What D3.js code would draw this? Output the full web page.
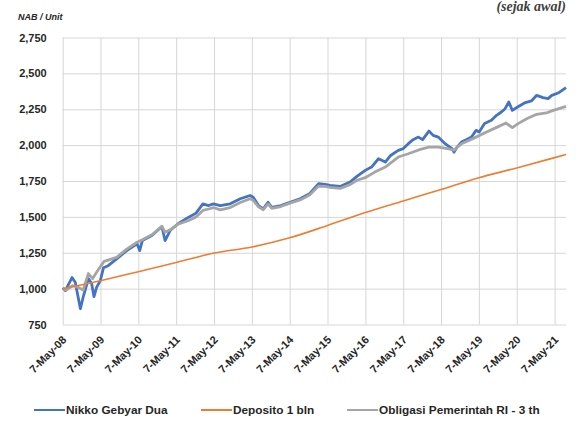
<!DOCTYPE html>
<html>
<head>
<meta charset="utf-8">
<script src="https://cdn.jsdelivr.net/npm/d3@7"></script>
<style>
  body { margin: 0; background: #fff; }
  svg { display: block; font-family: 'Liberation Sans Narrow', 'Arial Narrow', 'Liberation Sans', sans-serif; }
  .tick text { font-size: 11px; font-weight: bold; fill: #262626; }
  .tick line { stroke: #d6d6d6; }
  .domain { display: none; }
</style>
</head>
<body>
<svg></svg>
<script>
// values
const yTicks = [750, 1000, 1250, 1500, 1750, 2000, 2250, 2500, 2750];
const xTickDates = ['2008-05-07', '2009-05-07', '2010-05-07', '2011-05-07', '2012-05-07', '2013-05-07', '2014-05-07',
  '2015-05-07', '2016-05-07', '2017-05-07', '2018-05-07', '2019-05-07', '2020-05-07', '2021-05-07'];
const xTickLabels = ['7-May-08', '7-May-09', '7-May-10', '7-May-11', '7-May-12', '7-May-13', '7-May-14',
  '7-May-15', '7-May-16', '7-May-17', '7-May-18', '7-May-19', '7-May-20', '7-May-21'];
const seriesNames = ['Nikko Gebyar Dua', 'Deposito 1 bln', 'Obligasi Pemerintah RI - 3 th'];
const seriesColors = ['#4472c4', '#ed7d31', '#a5a5a5'];

const nikko = [
  ['2008-05-07', 1005], ['2008-06-01', 986], ['2008-08-05', 1077], ['2008-09-05', 1044], ['2008-10-25', 860],
  ['2008-11-20', 939], ['2009-01-10', 1070], ['2009-02-10', 1035], ['2009-03-05', 944], ['2009-03-30', 1009],
  ['2009-05-05', 1056], ['2009-06-05', 1146], ['2009-07-20', 1160], ['2009-10-10', 1207], ['2010-01-15', 1265],
  ['2010-04-25', 1312], ['2010-05-20', 1265], ['2010-06-15', 1335], ['2010-09-15', 1370], ['2010-12-20', 1433],
  ['2011-01-20', 1335], ['2011-03-10', 1405], ['2011-05-25', 1452], ['2011-09-05', 1498], ['2011-11-15', 1526],
  ['2012-01-20', 1591], ['2012-03-15', 1579], ['2012-05-01', 1591], ['2012-07-05', 1579], ['2012-10-10', 1591],
  ['2013-01-15', 1626], ['2013-04-20', 1649], ['2013-05-20', 1637], ['2013-07-10', 1579], ['2013-08-25', 1556],
  ['2013-10-10', 1602], ['2013-11-15', 1567], ['2014-02-10', 1579], ['2014-05-10', 1602], ['2014-08-15', 1626],
  ['2014-11-15', 1661], ['2015-02-10', 1731], ['2015-04-15', 1726], ['2015-06-01', 1719], ['2015-09-05', 1712],
  ['2015-12-10', 1742], ['2016-02-15', 1782], ['2016-05-05', 1824], ['2016-07-05', 1847], ['2016-09-10', 1905],
  ['2016-11-15', 1882], ['2017-01-05', 1928], ['2017-03-20', 1963], ['2017-05-05', 1975], ['2017-06-25', 2010],
  ['2017-08-10', 2038], ['2017-09-30', 2056], ['2017-11-10', 2038], ['2018-01-10', 2098], ['2018-02-20', 2068],
  ['2018-04-10', 2056], ['2018-06-15', 2010], ['2018-08-20', 1975], ['2018-09-10', 1951], ['2018-10-05', 1982],
  ['2018-11-20', 2021], ['2019-01-05', 2038], ['2019-02-25', 2056], ['2019-04-10', 2103], ['2019-05-10', 2091],
  ['2019-07-01', 2150], ['2019-09-05', 2173], ['2019-10-25', 2208], ['2019-12-10', 2231], ['2020-01-15', 2254],
  ['2020-02-20', 2301], ['2020-03-25', 2242], ['2020-05-15', 2266], ['2020-07-20', 2294], ['2020-09-25', 2308],
  ['2020-11-15', 2347], ['2021-01-15', 2331], ['2021-03-05', 2324], ['2021-04-10', 2347], ['2021-06-10', 2363],
  ['2021-08-25', 2401]
];

const deposito = [
  ['2008-05-07', 1000], ['2009-05-07', 1055], ['2010-05-07', 1118], ['2011-05-07', 1182], ['2012-05-07', 1248],
  ['2013-05-07', 1290], ['2014-05-07', 1354], ['2015-05-07', 1440], ['2016-05-07', 1530], ['2017-05-07', 1611],
  ['2018-05-07', 1691], ['2019-05-07', 1773], ['2020-05-07', 1841], ['2021-05-07', 1913], ['2021-08-25', 1935]
];

const obligasi = [
  ['2008-05-07', 1000], ['2008-06-10', 990], ['2008-08-10', 1020], ['2008-10-01', 1010], ['2008-11-20', 990],
  ['2009-01-10', 1105], ['2009-02-20', 1070], ['2009-04-10', 1126], ['2009-06-10', 1190], ['2009-10-10', 1218],
  ['2010-01-15', 1275], ['2010-04-25', 1323], ['2010-06-15', 1340], ['2010-09-15', 1375], ['2010-12-20', 1435],
  ['2011-01-20', 1393], ['2011-03-10', 1410], ['2011-05-25', 1450], ['2011-09-05', 1475], ['2011-11-15', 1500],
  ['2012-01-20', 1545], ['2012-03-15', 1555], ['2012-05-01', 1565], ['2012-07-05', 1549], ['2012-10-10', 1565],
  ['2013-01-15', 1600], ['2013-04-20', 1626], ['2013-05-20', 1615], ['2013-07-10', 1570], ['2013-08-25', 1550],
  ['2013-10-10', 1590], ['2013-11-15', 1560], ['2014-02-10', 1572], ['2014-05-10', 1596], ['2014-08-15', 1618],
  ['2014-11-15', 1652], ['2015-02-10', 1715], ['2015-04-15', 1712], ['2015-06-01', 1705], ['2015-09-05', 1698],
  ['2015-12-10', 1725], ['2016-02-15', 1755], ['2016-05-05', 1773], ['2016-08-05', 1812], ['2016-11-15', 1847],
  ['2017-03-20', 1917], ['2017-06-25', 1940], ['2017-10-10', 1968], ['2018-01-10', 1986], ['2018-04-10', 1986],
  ['2018-07-10', 1975], ['2018-09-10', 1965], ['2018-11-20', 2010], ['2019-02-01', 2033], ['2019-04-25', 2061],
  ['2019-07-20', 2091], ['2019-10-20', 2122], ['2020-01-25', 2154], ['2020-03-25', 2122], ['2020-05-20', 2150],
  ['2020-08-15', 2185], ['2020-11-15', 2215], ['2021-02-15', 2224], ['2021-04-25', 2242], ['2021-08-25', 2270]
];

const width = 582;
const height = 428;
const plotLeft = 62.7;
const plotRight = 566;
const plotTop = 37.5;
const plotBottom = 324.5;

const svg = d3.select('svg').attr('width', width).attr('height', height);
const parse = d3.timeParse('%Y-%m-%d');

const xScale = d3.scaleTime()
  .domain([parse('2008-05-07'), parse('2021-08-25')])
  .range([plotLeft, plotRight]);

const yScale = d3.scaleLinear()
  .domain([750, 2750])
  .range([plotBottom, plotTop]);

const generateAxes = () => {
  const yAxis = d3.axisLeft(yScale)
    .tickValues(yTicks)
    .tickSize(-(plotRight - plotLeft))
    .tickPadding(16)
    .tickFormat(d3.format(','));

  svg.append('g')
    .attr('transform', 'translate(' + plotLeft + ', 0)')
    .call(yAxis);

  const xAxis = d3.axisBottom(xScale)
    .tickValues(xTickDates.map(parse))
    .tickSize(-(plotBottom - plotTop))
    .tickFormat((d, i) => xTickLabels[i]);

  const gx = svg.append('g')
    .attr('transform', 'translate(0, ' + plotBottom + ')')
    .call(xAxis);

  gx.selectAll('text')
    .attr('x', 0)
    .attr('y', 0)
    .attr('dy', 0)
    .attr('text-anchor', 'end')
    .attr('transform', 'translate(4, 16) rotate(-45)');
};

const generateLines = () => {
  const line = d3.line()
    .x((d) => xScale(parse(d[0])))
    .y((d) => yScale(d[1]));

  const smooth = d3.line()
    .x((d) => xScale(parse(d[0])))
    .y((d) => yScale(d[1]))
    .curve(d3.curveMonotoneX);

  svg.append('path').datum(nikko)
    .attr('d', line).attr('fill', 'none')
    .attr('stroke', seriesColors[0]).attr('stroke-width', 2.8).attr('stroke-linejoin', 'round');

  svg.append('path').datum(obligasi)
    .attr('d', line).attr('fill', 'none')
    .attr('stroke', seriesColors[2]).attr('stroke-width', 2.8).attr('stroke-linejoin', 'round');

  svg.append('path').datum(deposito)
    .attr('d', smooth).attr('fill', 'none')
    .attr('stroke', seriesColors[1]).attr('stroke-width', 1.6);
};

const generateLabels = () => {
  svg.append('text')
    .attr('x', 18).attr('y', 20)
    .attr('font-size', 9).attr('font-weight', 'bold').attr('font-style', 'italic')
    .attr('fill', '#262626')
    .text('NAB / Unit');

  svg.append('text')
    .attr('x', 566).attr('y', 11)
    .attr('text-anchor', 'end')
    .attr('font-family', "'Liberation Serif', serif")
    .attr('font-size', 14).attr('font-weight', 'bold').attr('font-style', 'italic')
    .attr('fill', '#404040')
    .text('(sejak awal)');

  const legendX = [34, 201, 347];
  const legend = svg.append('g');
  seriesNames.forEach((name, i) => {
    legend.append('line')
      .attr('x1', legendX[i]).attr('x2', legendX[i] + 31)
      .attr('y1', 410).attr('y2', 410)
      .attr('stroke', seriesColors[i]).attr('stroke-width', 2);
    legend.append('text')
      .attr('x', legendX[i] + 32).attr('y', 414)
      .attr('font-size', 11.8).attr('font-weight', 'bold')
      .attr('fill', '#262626')
      .text(name);
  });
};

generateAxes();
generateLines();
generateLabels();
</script>
</body>
</html>
